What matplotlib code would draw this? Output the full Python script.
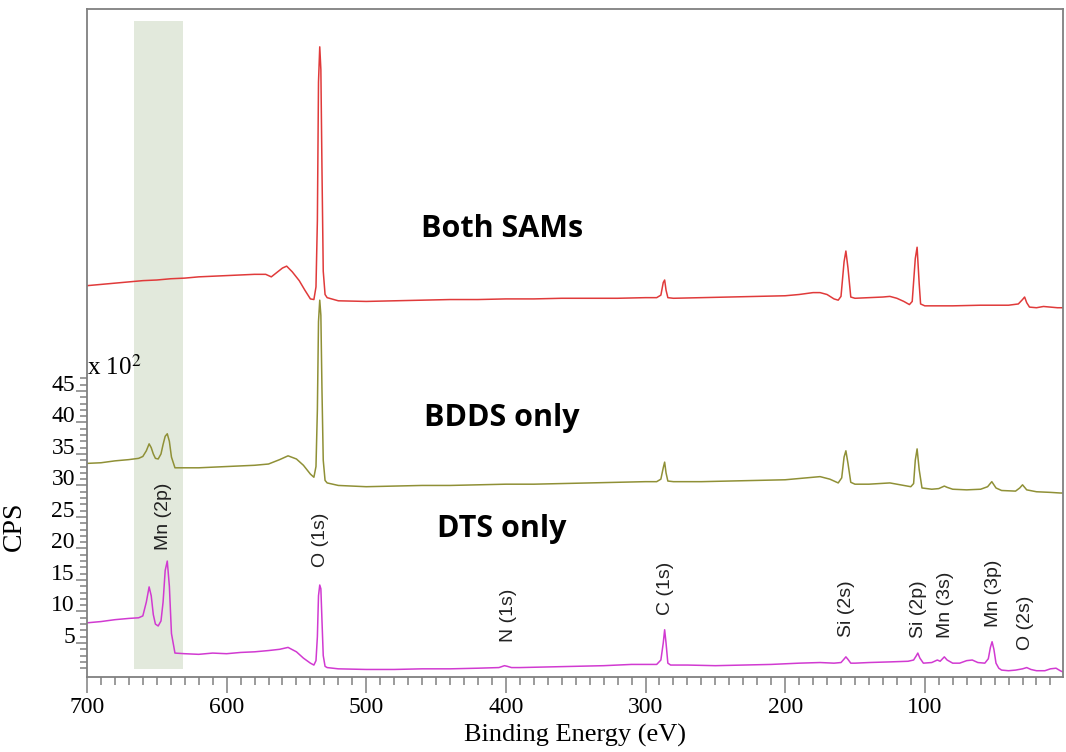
import matplotlib
matplotlib.use("Agg")
import matplotlib.pyplot as plt
from matplotlib.ticker import FixedLocator

# --- spectra (binding energy in eV, CPS x 10^2) ---
dts_ev = [700, 690, 680, 670, 663, 660, 657.5, 655.5, 654, 652.5, 651, 649, 647, 645.5, 644, 642.5,
          641, 639.5, 637, 630, 620, 610, 600, 590, 580, 570, 562, 556, 550, 545, 540, 537.5, 536,
          535, 534.2, 533.3, 532.5, 531.7, 530.8, 529.5, 528, 520, 500, 480, 460, 440, 420, 405, 401,
          399, 396, 390, 370, 350, 330, 310, 300, 292, 289, 287.3, 286.3, 285.3, 284, 282, 270, 250,
          230, 210, 190, 175, 165, 160, 158, 156.5, 155, 153, 150, 140, 125, 112, 108, 106, 105, 103.5,
          101, 95, 91, 89, 86, 84, 80, 75, 70, 66, 62, 57, 54.5, 53, 51.8, 50.5, 49, 47, 45, 40, 35,
          30, 27, 24, 20, 14, 10, 6, 3, 1]
dts_cps = [8.2, 8.4, 8.7, 8.9, 9.0, 9.3, 11.5, 13.9, 12.5, 9.5, 8.0, 7.7, 8.5, 11.5, 16.5, 18.0,
           14.0, 6.5, 3.4, 3.3, 3.2, 3.4, 3.3, 3.5, 3.6, 3.8, 4.0, 4.3, 3.6, 2.6, 1.8, 1.5, 2.2,
           6.0, 12.5, 14.2, 13.6, 8.5, 3.0, 1.3, 1.1, 0.9, 0.8, 0.8, 0.9, 0.9, 1.0, 1.1, 1.4,
           1.3, 1.1, 1.1, 1.2, 1.3, 1.4, 1.6, 1.6, 1.6, 2.3, 5.0, 7.1, 5.0, 1.8, 1.5, 1.5, 1.4,
           1.5, 1.6, 1.8, 1.9, 1.8, 1.9, 2.4, 2.8, 2.4, 1.8, 1.8, 1.9, 2.0, 2.1, 2.3, 3.0, 3.4, 2.6,
           1.8, 1.9, 2.3, 2.1, 2.8, 2.3, 1.8, 1.8, 2.2, 2.3, 1.9, 1.8, 2.5, 4.3, 5.2, 4.0, 1.8, 1.0, 0.7, 0.6, 0.7,
           0.9, 1.1, 0.8, 0.6, 0.6, 0.9, 1.0, 0.6, 0.4]

bdds_ev = [700, 690, 680, 670, 663, 660, 657.5, 655.5, 654, 652.5, 651, 649, 647, 645.5, 644, 642.5,
           641, 639.5, 637, 620, 600, 580, 570, 562, 556, 550, 545, 540, 537.5, 536, 535, 534.2,
           533.3, 532.5, 531.7, 530.8, 529.5, 528, 520, 500, 480, 460, 440, 420, 400, 380, 360, 340,
           320, 300, 292, 289, 287.3, 286.3, 285.3, 284, 280, 260, 240, 220, 200, 185, 175, 168, 162,
           159.5, 157.8, 156.5, 155, 153, 150, 140, 125, 115, 110, 108, 106.8, 105.5, 104, 102, 95,
           90, 86, 84, 80, 70, 60, 55, 52, 49, 45, 35, 32, 30, 27, 20, 10, 3, 1]
bdds_cps = [33.5, 33.6, 33.9, 34.1, 34.3, 34.6, 35.5, 36.6, 36.0, 35.0, 34.3, 34.2, 35.0, 36.5, 37.8, 38.2,
            37.0, 34.5, 32.8, 32.8, 33.0, 33.2, 33.4, 34.1, 34.7, 34.2, 33.2, 31.8, 31.3, 33.0, 42.0, 56.0,
            59.4, 57.0, 45.0, 34.0, 30.8, 30.4, 30.0, 29.8, 29.9, 30.0, 30.0, 30.1, 30.2, 30.2, 30.3, 30.4,
            30.5, 30.6, 30.6, 31.0, 32.8, 33.7, 32.0, 30.7, 30.6, 30.6, 30.7, 30.8, 30.9, 31.2, 31.4, 31.0, 30.4,
            31.2, 34.5, 35.5, 33.5, 30.5, 30.2, 30.2, 30.4, 30.0, 29.8, 30.3, 34.0, 35.8, 32.5, 29.6, 29.4,
            29.5, 29.9, 29.7, 29.4, 29.3, 29.4, 29.8, 30.6, 29.6, 29.2, 29.1, 29.6, 30.1, 29.3, 29.0, 28.9, 28.8, 28.8]

both_ev = [700, 690, 680, 670, 660, 650, 640, 630, 620, 610, 600, 590, 580, 572, 568, 564, 560,
           557, 553, 548, 544, 540, 537.5, 536, 535, 534.2, 533.3, 532.5, 531.7, 530.8, 529.5, 528,
           520, 500, 480, 460, 440, 420, 400, 380, 360, 340, 320, 300, 292, 289, 287.3, 286.3,
           285.3, 284, 280, 260, 240, 220, 200, 190, 180, 175, 170, 165, 162, 160, 157.8, 156.5,
           155, 153, 150, 140, 130, 125, 120, 115, 111, 109, 106.8, 105.5, 104, 103, 100, 80, 60,
           40, 33, 30, 28.5, 27, 25, 20, 15, 10, 5, 1]
both_cps = [61.7, 61.9, 62.1, 62.3, 62.5, 62.6, 62.8, 62.9, 63.1, 63.2, 63.3, 63.4, 63.5, 63.5, 63.1, 63.8, 64.5,
            64.8, 63.9, 62.5, 61.0, 59.6, 59.5, 61.5, 72.0, 94.0, 99.6, 96.0, 80.0, 64.0, 60.3, 59.8,
            59.3, 59.2, 59.3, 59.4, 59.5, 59.5, 59.6, 59.6, 59.7, 59.7, 59.7, 59.8, 59.8, 60.2, 62.2, 62.6,
            61.0, 59.8, 59.7, 59.8, 59.9, 60.0, 60.1, 60.3, 60.6, 60.6, 60.3, 59.6, 59.4, 60.0, 65.5, 67.2,
            64.5, 59.9, 59.7, 59.8, 59.9, 60.0, 59.7, 59.2, 58.7, 59.2, 66.0, 67.8, 62.0, 58.8, 58.5, 58.5, 58.6,
            58.6, 58.8, 59.5, 59.9, 59.0, 58.3, 58.2, 58.4, 58.3, 58.2, 58.2]

# peak assignments (label, energy, bottom of label)
peak_names = ["Mn (2p)", "O (1s)", "N (1s)", "C (1s)", "Si (2s)", "Si (2p)", "Mn (3s)", "Mn (3p)", "O (2s)"]
peak_ev = [645, 533, 398, 286, 156, 104.5, 85, 51, 28]
peak_y = [19.8, 17.1, 5.2, 9.4, 6.0, 5.8, 5.8, 7.5, 3.9]

sample_names = ["Both SAMs", "BDDS only", "DTS only"]
sample_y = [69.4, 39.4, 21.8]

mn2p_band = (666, 631)

plt.rcParams['mathtext.fontset'] = 'stix'
serif = 'Liberation Serif'
grey = '#808080'

fig = plt.figure(figsize=(10.66, 7.52), dpi=100)
ax = fig.add_axes([0.0816, 0.0997, 0.9156, 0.8883])

ax.fill_betweenx([0.9, 103.7], mn2p_band[0], mn2p_band[1], color='#e2e9dc', lw=0, zorder=0)

ax.plot(both_ev, both_cps, color='#e03a3a', lw=1.1)
ax.plot(bdds_ev, bdds_cps, color='#8f9036', lw=1.1)
ax.plot(dts_ev, dts_cps, color='#d13ad1', lw=1.1)

for name, x, y in zip(peak_names, peak_ev, peak_y):
    ax.text(x, y, name, rotation=90, ha='center', va='bottom', fontsize=14,
            family='Liberation Sans', color='#222222')

for name, y in zip(sample_names, sample_y):
    ax.text(403, y, name, ha='center', va='baseline', fontsize=22,
            family='Open Sans', fontweight='bold', color='black')

ax.set_xlim(700, 1)
ax.set_ylim(-0.4, 105.6)

ax.xaxis.set_major_locator(FixedLocator([700, 600, 500, 400, 300, 200, 100]))
ax.xaxis.set_minor_locator(FixedLocator([v for v in range(10, 700, 10) if v % 100]))
ax.yaxis.set_major_locator(FixedLocator([5, 10, 15, 20, 25, 30, 35, 40, 45]))
ax.yaxis.set_minor_locator(FixedLocator([v for v in range(1, 48) if v % 5]))

ax.tick_params(axis='x', which='major', length=11.5, width=1.1, color=grey, pad=3, labelsize=17)
ax.tick_params(axis='x', which='minor', length=5.8, width=1.1, color=grey)
ax.tick_params(axis='y', which='major', length=7.7, width=1.1, color=grey, pad=1, labelsize=17)
ax.tick_params(axis='y', which='minor', length=4.8, width=1.1, color=grey)
for lab in ax.get_xticklabels() + ax.get_yticklabels():
    lab.set_family(serif)
for lab in ax.get_yticklabels():
    lab.set_va('baseline')

for s in ax.spines.values():
    s.set_color(grey)
    s.set_linewidth(1.3)

ax.text(700, 47.6, 'x 10$^2$', ha='left', va='baseline', fontsize=18, family=serif)

ax.set_xlabel('Binding Energy (eV)', fontsize=19, family=serif)
ax.xaxis.set_label_coords(0.5, -0.07)
ax.set_ylabel('CPS', fontsize=20, family=serif)
ax.yaxis.set_label_coords(-0.062, 0.225)

fig.savefig('out.png', dpi=100)
